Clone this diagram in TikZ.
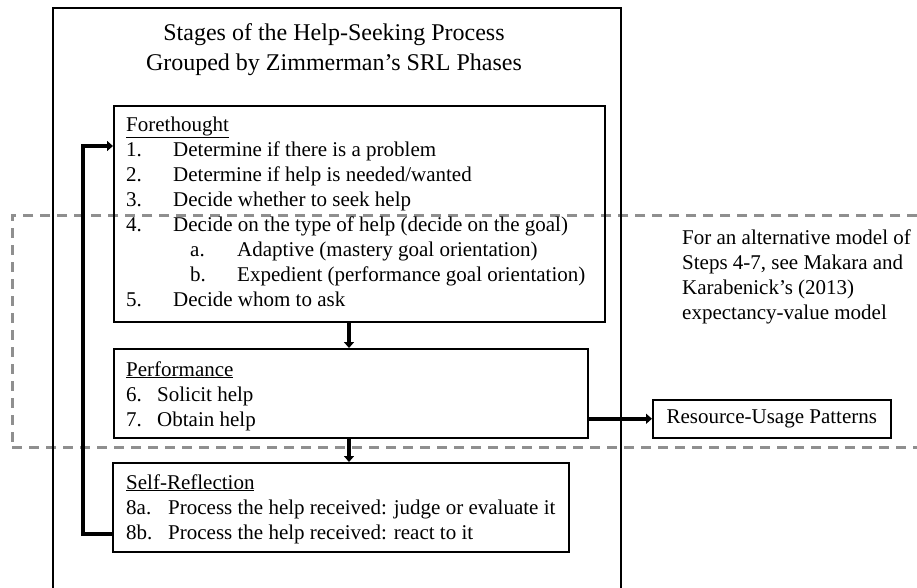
\documentclass[tikz,border=0pt]{standalone}
\usepackage{fontspec}
\setmainfont{Liberation Serif}
\usetikzlibrary{arrows.meta}
\begin{document}
\begin{tikzpicture}[x=1pt,y=-1pt,
  box/.style={draw=black, line width=1.5pt, rectangle, inner sep=0pt, anchor=north west},
  txt/.style={anchor=base west, inner sep=0pt, font=\fontsize{21}{25}\selectfont},
  ttl/.style={anchor=base, inner sep=0pt, font=\fontsize{24}{30}\selectfont},
  flow/.style={line width=3.5pt, -{Triangle[length=6pt,width=10pt]}},
  altbox/.style={draw=dashgray, line width=2.5pt, dash pattern=on 10pt off 7pt, rectangle, inner sep=0pt, anchor=north west},
]
\definecolor{dashgray}{HTML}{8F8F8F}
\useasboundingbox (0,0) rectangle (917,587);
\clip (0,0) rectangle (917,587);
\fill[white] (0,0) rectangle (917,587);

% dashed region
\node[altbox, minimum width=940pt, minimum height=232pt] (alt) at (11,214) {};

% outer frame
\node[box, minimum width=568pt, minimum height=640pt] (outer) at (52,7) {};
\node[ttl] (title1) at (334,40) {Stages of the Help-Seeking Process};
\node[ttl] (title2) at (334,70) {Grouped by Zimmerman's SRL Phases};

% boxes
\node[box, minimum width=491pt, minimum height=216pt] (fore) at (113,105) {};
\node[box, minimum width=474pt, minimum height=89pt] (perf) at (113,348) {};
\node[box, minimum width=456pt, minimum height=89pt] (self) at (112,462) {};
\node[box, minimum width=238pt, minimum height=38pt, font=\fontsize{21}{25}\selectfont] (res) at (652,399) {Resource-Usage Patterns};

% forethought text
\node[txt] (f0) at (126,131) {\underline{Forethought}};
\node[txt] (f1) at (126,156) {\makebox[47pt][l]{1.}Determine if there is a problem};
\node[txt] (f2) at (126,181) {\makebox[47pt][l]{2.}Determine if help is needed/wanted};
\node[txt] (f3) at (126,206) {\makebox[47pt][l]{3.}Decide whether to seek help};
\node[txt] (f4) at (126,231) {\makebox[47pt][l]{4.}Decide on the type of help (decide on the goal)};
\node[txt] (fa) at (190,256) {\makebox[47pt][l]{a.}Adaptive (mastery goal orientation)};
\node[txt] (fb) at (190,281) {\makebox[47pt][l]{b.}Expedient (performance goal orientation)};
\node[txt] (f5) at (126,306) {\makebox[47pt][l]{5.}Decide whom to ask};

% performance text
\node[txt] (p0) at (126,376) {\underline{Performance}};
\node[txt] (p1) at (126,401) {\makebox[31pt][l]{6.}Solicit help};
\node[txt] (p2) at (126,426) {\makebox[31pt][l]{7.}Obtain help};

% self-reflection text
\node[txt] (s0) at (126,489) {\underline{Self-Reflection}};
\node[txt] (s1) at (126,514) {\makebox[42pt][l]{8a.}Process the help received: judge or evaluate it};
\node[txt] (s2) at (126,539) {\makebox[42pt][l]{8b.}Process the help received: react to it};

% alternative model note
\node[txt] (a0) at (682,244) {For an alternative model of};
\node[txt] (a1) at (682,269) {Steps 4-7, see Makara and};
\node[txt] (a2) at (682,294) {Karabenick's (2013)};
\node[txt] (a3) at (682,319) {expectancy-value model};

% connectors
\coordinate (cx) at (349,0);
\draw[flow] (fore.south -| cx) -- (perf.north -| cx);
\draw[flow] (perf.south -| cx) -- (self.north -| cx);
\draw[flow] (perf.east |- res.west) -- (res.west);
\coordinate (fbb) at (83,534);
\coordinate (fbt) at (83,146);
\draw[flow, line width=4pt, line join=miter] (self.west |- fbb) -- (fbb) -- (fbt) -- (fore.west |- fbt);
\end{tikzpicture}
\end{document}
